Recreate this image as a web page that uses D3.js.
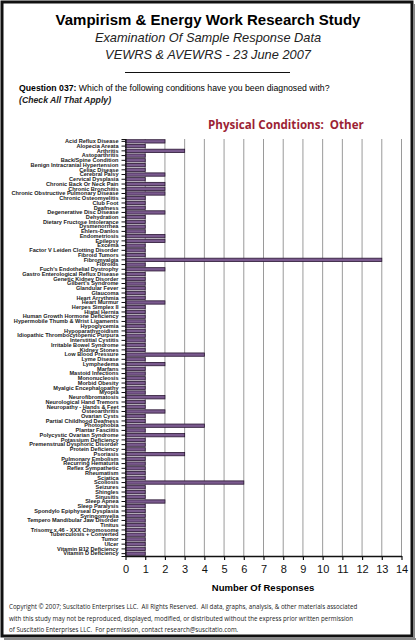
<!DOCTYPE html>
<html><head><meta charset="utf-8">
<script src="https://cdn.jsdelivr.net/npm/d3@7/dist/d3.min.js"></script>
<style>body{margin:0;background:#fff;}svg{display:block;}</style>
</head><body>
<script>
const categories = ["Acid Reflux Disease","Alopecia Areata","Arthritis","Astoparthritis","Back/Spine Condition","Benign Intracranial Hypertension","Celiac Disease","Cerebral Palsy","Cervical Dysplasia","Chronic Back Or Neck Pain","Chronic Bronchitis","Chronic Obstructive Pulmonary Disease","Chronic Osteomyelitis","Club Foot","Deafness","Degenerative Disc Disease","Dehydration","Dietary Fructose Intolerance","Dysmenorrhea","Ehlers-Danlos","Endometriosis","Epilepsy","Excema","Factor V Leiden Clotting Disorder","Fibroid Tumors","Fibromyalgia","Fibroids","Fuch's Endothelial Dystrophy","Gastro Enterological Reflux Disease","Genetic Kidney Disorder","Gilbert's Syndrome","Glandular Fever","Glaucoma","Heart Arrythmia","Heart Murmur","Herpes Simplex II","Hiatal Hernia","Human Growth Hormone Deficiency","Hypermobile Thumb & Wrist Ligaments","Hypoglycemia","Hypoparathyroidism","Idiopathic Thrombocytopenic Purpura","Interstitial Cystitis","Irritable Bowel Syndrome","Kidney Stones","Low Blood Pressure","Lyme Disease","Lymphedema","Marfans","Mastoid Infections","Mononucleosis","Morbid Obesity","Myalgic Encephalopathy","Myopia","Neurofibromatosis","Neurological Hand Tremors","Neuropathy - Hands & Feet","Osteoarthritis","Ovarian Cysts","Partial Childhood Deafness","Photophobia","Plantar Fasciitis","Polycystic Ovarian Syndrome","Potassium Deficiency","Premenstrual Dysphoric Disorder","Protein Deficiency","Psoriasis","Pulmonary Embolism","Recurring Hematuria","Reflex Sympathetic","Rheumatism","Sciatica","Scoliosis","Seizures","Shingles","Sinusitis","Sleep Apnea","Sleep Paralysis","Spondylo Epiphyseal Dysplasia","Syringomyelia","Tempero Mandibular Jaw Disorder","Tinitus","Trisomy x.46 - XXX Chromosome","Tuberculosis + Converted","Tumor","Ulcer","Vitamin B12 Deficiency","Vitamin D Deficiency"];
const responses = [2,1,3,1,1,1,1,2,1,2,2,2,1,1,1,2,1,1,1,1,2,2,1,1,1,13,1,2,1,1,1,1,1,1,2,1,1,1,1,1,1,1,1,1,1,4,1,2,1,1,1,1,1,1,2,1,1,2,1,1,4,1,3,1,1,1,3,1,1,1,1,1,6,1,1,1,2,1,1,1,1,1,1,1,1,1,1,1];
const xTicks = [0,1,2,3,4,5,6,7,8,9,10,11,12,13,14];

const W = 416, H = 640;
const svg = d3.select("body").append("svg").attr("width", W).attr("height", H);
svg.append("rect").attr("x",0).attr("y",0).attr("width",W).attr("height",H).attr("fill","#fff");
svg.append("rect").attr("x",2).attr("y",2).attr("width",W-6).attr("height",H-6).attr("fill","none").attr("stroke","#111").attr("stroke-width",3);
svg.append("line").attr("x1",W-2).attr("x2",W-2).attr("y1",4).attr("y2",H).attr("stroke","#888").attr("stroke-width",2);
svg.append("line").attr("x1",4).attr("x2",W).attr("y1",H-1).attr("y2",H-1).attr("stroke","#888").attr("stroke-width",2);

const sans = "Liberation Sans, Arial, sans-serif";
svg.append("text").attr("x",208).attr("y",25).attr("text-anchor","middle").attr("font-family",sans).attr("font-weight","bold").attr("font-size",15).text("Vampirism & Energy Work Research Study");
svg.append("text").attr("x",208).attr("y",42).attr("text-anchor","middle").attr("font-family",sans).attr("font-style","italic").attr("font-size",12.8).attr("fill","#222").text("Examination Of Sample Response Data");
svg.append("text").attr("x",208).attr("y",59).attr("text-anchor","middle").attr("font-family",sans).attr("font-style","italic").attr("font-size",12.8).attr("fill","#222").text("VEWRS & AVEWRS - 23 June 2007");
svg.append("line").attr("x1",125).attr("x2",290).attr("y1",72.5).attr("y2",72.5).attr("stroke","#111").attr("stroke-width",1.2);

const q = svg.append("text").attr("x",19).attr("y",91).attr("font-family",sans).attr("font-size",8.7);
q.append("tspan").attr("font-weight","bold").text("Question 037:");
q.append("tspan").text("  Which of the following conditions have you been diagnosed with?");
svg.append("text").attr("x",19).attr("y",102.5).attr("font-family",sans).attr("font-size",8.7).attr("font-style","italic").attr("font-weight","bold").attr("fill","#222").text("(Check All That Apply)");

svg.append("text").attr("x",208).attr("y",129).attr("font-family","Open Sans, Lato, sans-serif").attr("font-weight","bold").attr("font-size",11.6).attr("fill","#9c1f35").attr("xml:space","preserve").text("Physical Conditions:  Other");

const x = d3.scaleLinear().domain([0,14]).range([125.5,401.5]);
const y = d3.scaleBand().domain(categories).range([139,556]).paddingInner(0.3).paddingOuter(0.15);

// gridlines
svg.append("g").selectAll("line").data(xTicks.slice(1)).join("line")
  .attr("x1",d=>x(d)).attr("x2",d=>x(d)).attr("y1",139).attr("y2",556)
  .attr("stroke","#9a9a9a").attr("stroke-width",1);

// bars
svg.append("g").selectAll("rect").data(categories).join("rect")
  .attr("x",x(0)).attr("y",d=>y(d))
  .attr("width",(d,i)=>x(responses[i])-x(0)).attr("height",y.bandwidth())
  .attr("fill","#7a5a8e").attr("stroke","#2a1633").attr("stroke-width",0.8);

// y axis
const yAxis = d3.axisLeft(y).tickSize(4).tickPadding(3);
const gy = svg.append("g").attr("transform",`translate(${x(0)},0)`).call(yAxis);
gy.select(".domain").attr("stroke","#111").attr("stroke-width",1.2);
gy.selectAll(".tick line").attr("stroke","#111");
gy.selectAll(".tick text").attr("font-family",sans).attr("font-weight","bold").attr("font-size",5.6).attr("fill","#222");

// x axis
const xAxis = d3.axisBottom(x).tickValues(xTicks).tickFormat(d3.format("d")).tickSize(4).tickPadding(5).tickSizeOuter(0);
const gx = svg.append("g").attr("transform","translate(0,556)").call(xAxis);
gx.select(".domain").attr("stroke","#111").attr("stroke-width",1.5);
gx.selectAll(".tick line").attr("stroke","#111").attr("stroke-width",1.2);
gx.selectAll(".tick text").attr("font-family",sans).attr("font-size",11).attr("fill","#111");

svg.append("text").attr("x",263).attr("y",591).attr("text-anchor","middle").attr("font-family",sans).attr("font-weight","bold").attr("font-size",9.5).text("Number Of Responses");

const foot = ["Copyright © 2007; Suscitatio Enterprises LLC.  All Rights Reserved.  All data, graphs, analysis, & other materials associated",
"with this study may not be reproduced, displayed, modified, or distributed without the express prior written permission",
"of Suscitatio Enterprises LLC.  For permission, contact research@suscitatio.com."];
svg.append("g").selectAll("text").data(foot).join("text")
  .attr("x",9).attr("y",(d,i)=>609+i*11.5).attr("font-family","Open Sans, sans-serif").attr("font-size",6.2).attr("fill","#222")
  .attr("xml:space","preserve").text(d=>d);
</script>
</body></html>
